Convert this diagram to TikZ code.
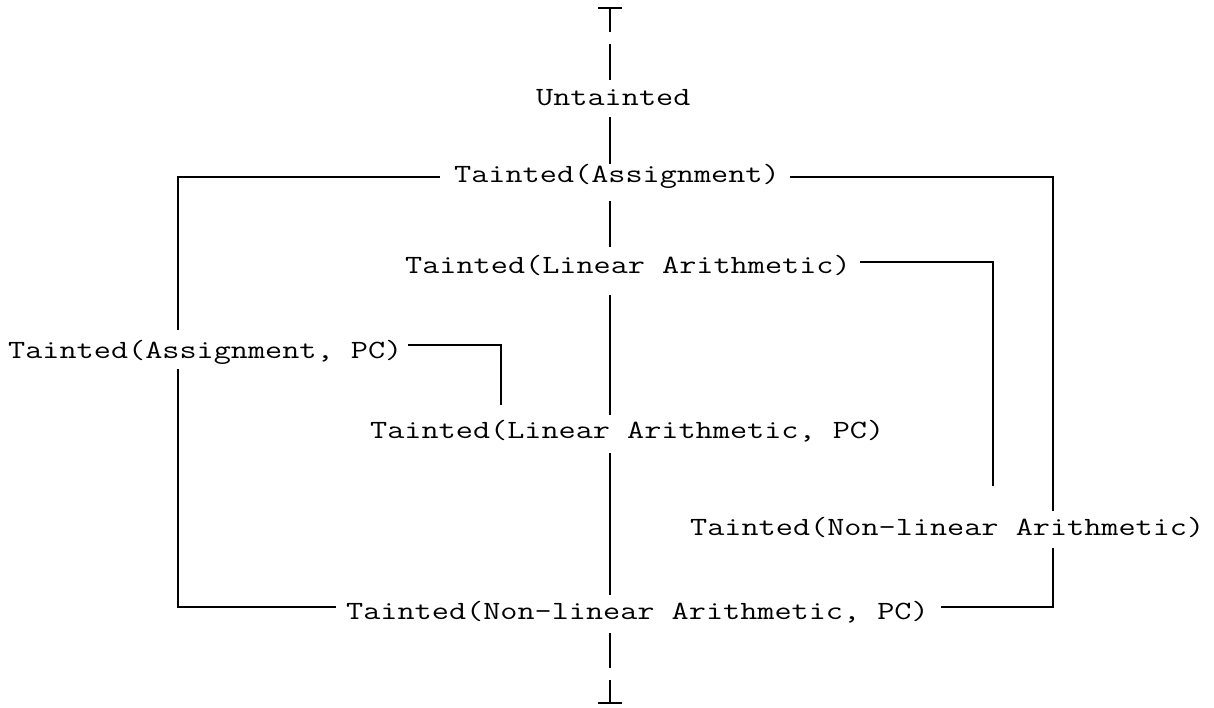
\documentclass[tikz,border=0pt]{standalone}
\newcommand\stretchtxt[1]{\scalebox{1.265}[1]{#1}}
\begin{document}
\begin{tikzpicture}[x=1pt,y=-1pt,
  lbl/.style={anchor=base west,inner sep=0pt,font=\fontsize{26.3}{30}\ttfamily},
  edge/.style={line width=1.2pt,line cap=butt}]
\useasboundingbox (0,0) rectangle (1214,707);
% nodes
\node[lbl] (u)    at (536,105) {\stretchtxt{Untainted}};
\node[lbl] (ta)   at (454,182) {\stretchtxt{Tainted(Assignment)}};
\node[lbl] (tla)  at (405,273) {\stretchtxt{Tainted(Linear Arithmetic)}};
\node[lbl] (tapc) at (8,358)   {\stretchtxt{Tainted(Assignment, PC)}};
\node[lbl] (tlapc) at (370,438) {\stretchtxt{Tainted(Linear Arithmetic, PC)}};
\node[lbl] (tna)  at (690,535) {\stretchtxt{Tainted(Non-linear Arithmetic)}};
\node[lbl] (tnapc) at (346,619) {\stretchtxt{Tainted(Non-linear Arithmetic, PC)}};
% top and bottom symbols
\coordinate (top) at (610,8);
\coordinate (bot) at (610,703);
\draw[edge] ([xshift=-12pt]top) -- ([xshift=12pt]top);
\draw[edge] (top) -- ++(0,24);
\draw[edge] ([xshift=-12pt]bot) -- ([xshift=12pt]bot);
\draw[edge] (bot) -- ++(0,-23);
% central spine
\draw[edge] (610,44) -- (610,80);
\draw[edge] (610,117) -- (610,164);
\draw[edge] (610,201) -- (610,247);
\draw[edge] (610,295) -- (610,415);
\draw[edge] (610,453) -- (610,595);
\draw[edge] (610,633) -- (610,668);
% left bracket
\draw[edge] (440,177) -| (178,330);
\draw[edge] (178,369) |- (336,607);
% right bracket
\draw[edge] (790,177) -| (1053,511);
\draw[edge] (1053,548) |- (941,607);
% linear -> non-linear
\draw[edge] (860,262) -| (993,486);
% assignment PC -> linear PC
\draw[edge] (408,345) -| (501,405);
\end{tikzpicture}
\end{document}
